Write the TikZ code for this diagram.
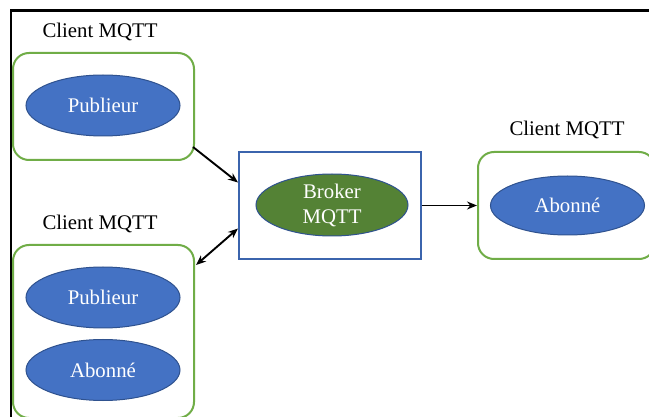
\documentclass[tikz,border=0pt]{standalone}
\usepackage{fontspec}
\setmainfont{Liberation Serif}
\usetikzlibrary{shapes.geometric,arrows.meta,calc}
\definecolor{ellblue}{HTML}{4472C4}
\definecolor{elledge}{HTML}{2F528F}
\definecolor{boxgreen}{HTML}{70AD47}
\definecolor{brokgreen}{HTML}{548235}
\definecolor{rectblue}{HTML}{3B64AD}
\tikzset{
  client/.style={draw=boxgreen, line width=2pt, rounded corners=16pt, fill=white, inner sep=0pt},
  role/.style={ellipse, draw=elledge, line width=1pt, fill=ellblue, text=white, inner sep=0pt,
    font=\fontsize{20.8}{25}\selectfont, align=center},
  brokerell/.style={role, fill=brokgreen},
  brokerbox/.style={draw=rectblue, line width=2pt, fill=white, inner sep=0pt},
  lbl/.style={font=\fontsize{20.8}{25}\selectfont, inner sep=0pt},
  conn/.style={line width=1.9pt, -{Stealth[length=10pt,width=8pt]}},
  conn2/.style={line width=1.9pt, {Stealth[length=10pt,width=8pt]}-{Stealth[length=10pt,width=8pt]}}
}
\begin{document}
\begin{tikzpicture}[x=1pt,y=-1pt]
\useasboundingbox (0,0) rectangle (649,417);
\clip (0,0) rectangle (649,417);
\fill[white] (0,0) rectangle (649,417);
% frame
\draw[line width=2.5pt, line cap=rect] (11,420) -- (11,10.5) -- (652,10.5);
% clients
\node[client, minimum width=181pt, minimum height=107pt] (box1) at (103.5,106.5) {};
\node[client, minimum width=181pt, minimum height=173pt] (box2) at (103.5,331.5) {};
\node[client, minimum width=177pt, minimum height=107pt] (box3) at (566.5,205.5) {};
\node[brokerbox, minimum width=182pt, minimum height=107pt] (brokbox) at (330,205.5) {};
% labels
\node[lbl] (l1) at (100,32) {Client MQTT};
\node[lbl] (l2) at (100,224) {Client MQTT};
\node[lbl] (l3) at (567,130) {Client MQTT};
% ellipses
\node[role, minimum width=154pt, minimum height=61pt] (pub1) at (103,105.5) {Publieur};
\node[role, minimum width=154pt, minimum height=61pt] (pub2) at (103,297.5) {Publieur};
\node[role, minimum width=154pt, minimum height=61pt] (abo2) at (103,370) {Abonné};
\node[role, minimum width=154pt, minimum height=59pt] (abo3) at (567.5,205.5) {Abonné};
\node[brokerell, minimum width=152pt, minimum height=62pt] (broker) at (332,205) {Broker\\MQTT};
% connectors
\draw[conn] ($(box1.south east)+(-2,-14)$) -- ($(brokbox.west)+(0,-23)$);
\draw[conn2] ($(box2.north east)+(1,21)$) -- ($(brokbox.west)+(0,23)$);
\draw[conn] (brokbox.east) -- (box3.west);
\end{tikzpicture}
\end{document}
